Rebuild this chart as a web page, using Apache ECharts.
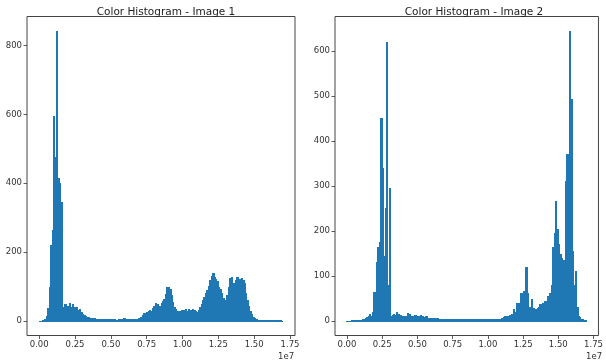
<!DOCTYPE html>
<html>
<head>
<meta charset="utf-8">
<script src="https://cdn.jsdelivr.net/npm/echarts@6/dist/echarts.min.js"></script>
<style>
html,body{margin:0;padding:0;background:#fff;}
#chart{width:606px;height:363px;}
</style>
</head>
<body>
<div id="chart"></div>
<script>
// Bin width (colour index units) and bin values
const binWidth = 100000;
const titles = ['Color Histogram - Image 1', 'Color Histogram - Image 2'];
const image1Counts = [
  1,1,2,2,5,15,38,100,220,265,
  595,475,842,415,400,345,30,40,50,38,
  45,53,42,48,40,38,42,32,34,26,
  20,17,14,12,11,10,9,8,8,7,
  7,6,6,5,5,5,5,4,5,4,
  5,4,5,4,4,5,5,6,5,10,
  6,5,5,5,5,5,6,6,7,8,
  10,13,18,22,20,26,28,33,30,38,
  45,53,48,40,45,52,58,63,78,100,
  98,92,75,55,40,34,30,28,30,32,
  30,33,36,30,34,32,30,36,33,28,
  26,32,40,48,60,70,80,90,102,118,
  130,139,128,121,115,100,92,80,68,62,
  58,75,100,125,129,110,100,120,129,115,
  121,125,118,110,82,60,44,30,19,12,
  8,5,4,4,3,3,3,2,3,2,
  2,2,3,2,2,2,2,2,2,1
];
const image2Counts = [
  1,1,1,2,2,2,2,2,2,3,
  3,4,5,6,8,10,15,12,20,65,
  25,130,165,175,450,340,145,250,620,80,
  295,12,14,15,13,20,15,12,14,11,
  10,12,10,18,16,10,12,11,13,10,
  12,11,13,10,9,8,12,7,6,6,
  6,7,6,7,6,5,5,5,5,5,
  4,5,4,4,5,4,4,5,4,4,
  5,4,4,4,5,4,4,4,4,5,
  4,4,4,5,4,4,4,4,5,4,
  4,4,5,4,4,4,5,5,5,5,
  6,8,11,12,12,13,12,15,26,20,
  41,30,40,63,63,67,60,119,63,30,
  30,48,28,25,26,28,30,37,35,40,
  44,45,55,56,62,80,165,195,267,205,
  170,148,140,130,135,310,370,325,644,493,
  155,80,110,30,12,8,5,4,3,2
];
const xTickValues = [0, 2500000, 5000000, 7500000, 10000000, 12500000, 15000000, 17500000];
const xTickLabels = ['0.00', '0.25', '0.50', '0.75', '1.00', '1.25', '1.50', '1.75'];
const y1TickValues = [0, 200, 400, 600, 800];
const y1TickLabels = ['0', '200', '400', '600', '800'];
const y2TickValues = [0, 100, 200, 300, 400, 500, 600];
const y2TickLabels = ['0', '100', '200', '300', '400', '500', '600'];
const offsetText = '1e7';

function toBins(counts) {
  return counts.map((v, i) => [i * binWidth, (i + 1) * binWidth, v]);
}

const FONT = 'DejaVu Sans';
const TXT = '#333';
const BLUE = '#1f77b4';
const dataMax = image1Counts.length * binWidth;
const xPad = dataMax * 0.05;

function yRange(counts) {
  const m = Math.max(...counts);
  return [-m * 0.05, m * 1.05];
}

function xAxis(gi) {
  return {
    type: 'value', gridIndex: gi, min: -xPad, max: dataMax + xPad,
    axisLine: { show: false, onZero: false },
    splitLine: { show: false },
    axisTick: { show: true, inside: false, length: 3.5, lineStyle: { color: '#333', width: 0.8 }, customValues: xTickValues },
    axisLabel: {
      show: true, margin: 5, fontFamily: FONT, fontSize: 8.5, color: TXT, customValues: xTickValues,
      formatter: v => xTickLabels[xTickValues.indexOf(v)] ?? ''
    }
  };
}
function yAxis(gi, counts, vals, labels) {
  const r = yRange(counts);
  return {
    type: 'value', gridIndex: gi, min: r[0], max: r[1],
    axisLine: { show: false, onZero: false },
    splitLine: { show: false },
    axisTick: { show: true, inside: false, length: 3.5, lineStyle: { color: '#333', width: 0.8 }, customValues: vals },
    axisLabel: {
      show: true, margin: 5, fontFamily: FONT, fontSize: 8.5, color: TXT, customValues: vals,
      formatter: v => labels[vals.indexOf(v)] ?? ''
    }
  };
}

function renderBin(params, api) {
  const p0 = api.coord([api.value(0), api.value(2)]);
  const p1 = api.coord([api.value(1), 0]);
  const x0 = Math.floor(p0[0]);
  const x1 = Math.ceil(p1[0]);
  const yb = Math.ceil(p1[1]) + 1;
  const yt = Math.round(p0[1]);
  return {
    type: 'rect',
    shape: { x: x0, y: yt, width: x1 - x0, height: yb - yt },
    style: { fill: BLUE }
  };
}

const chart = echarts.init(document.getElementById('chart'), null, { renderer: 'canvas' });
chart.setOption({
  animation: false,
  backgroundColor: '#fff',
  title: [
    { text: titles[0], left: 161, top: 2, textAlign: 'center', textStyle: { fontFamily: FONT, fontSize: 10.5, fontWeight: 'normal', color: '#222' } },
    { text: titles[1], left: 469, top: 2, textAlign: 'center', textStyle: { fontFamily: FONT, fontSize: 10.5, fontWeight: 'normal', color: '#222' } }
  ],
  grid: [
    { left: 27, top: 16.5, width: 268, height: 319, show: true, borderColor: '#444', borderWidth: 1, backgroundColor: 'transparent' },
    { left: 335, top: 16.5, width: 268, height: 319, show: true, borderColor: '#444', borderWidth: 1, backgroundColor: 'transparent' }
  ],
  xAxis: [xAxis(0), xAxis(1)],
  yAxis: [yAxis(0, image1Counts, y1TickValues, y1TickLabels), yAxis(1, image2Counts, y2TickValues, y2TickLabels)],
  graphic: [
    { type: 'text', left: 278, top: 352, style: { text: offsetText, font: '8.5px "DejaVu Sans"', fill: TXT } },
    { type: 'text', left: 586, top: 352, style: { text: offsetText, font: '8.5px "DejaVu Sans"', fill: TXT } }
  ],
  series: [
    { type: 'custom', xAxisIndex: 0, yAxisIndex: 0, renderItem: renderBin, data: toBins(image1Counts), encode: { x: [0, 1], y: 2 } },
    { type: 'custom', xAxisIndex: 1, yAxisIndex: 1, renderItem: renderBin, data: toBins(image2Counts), encode: { x: [0, 1], y: 2 } }
  ]
});
</script>
</body>
</html>
